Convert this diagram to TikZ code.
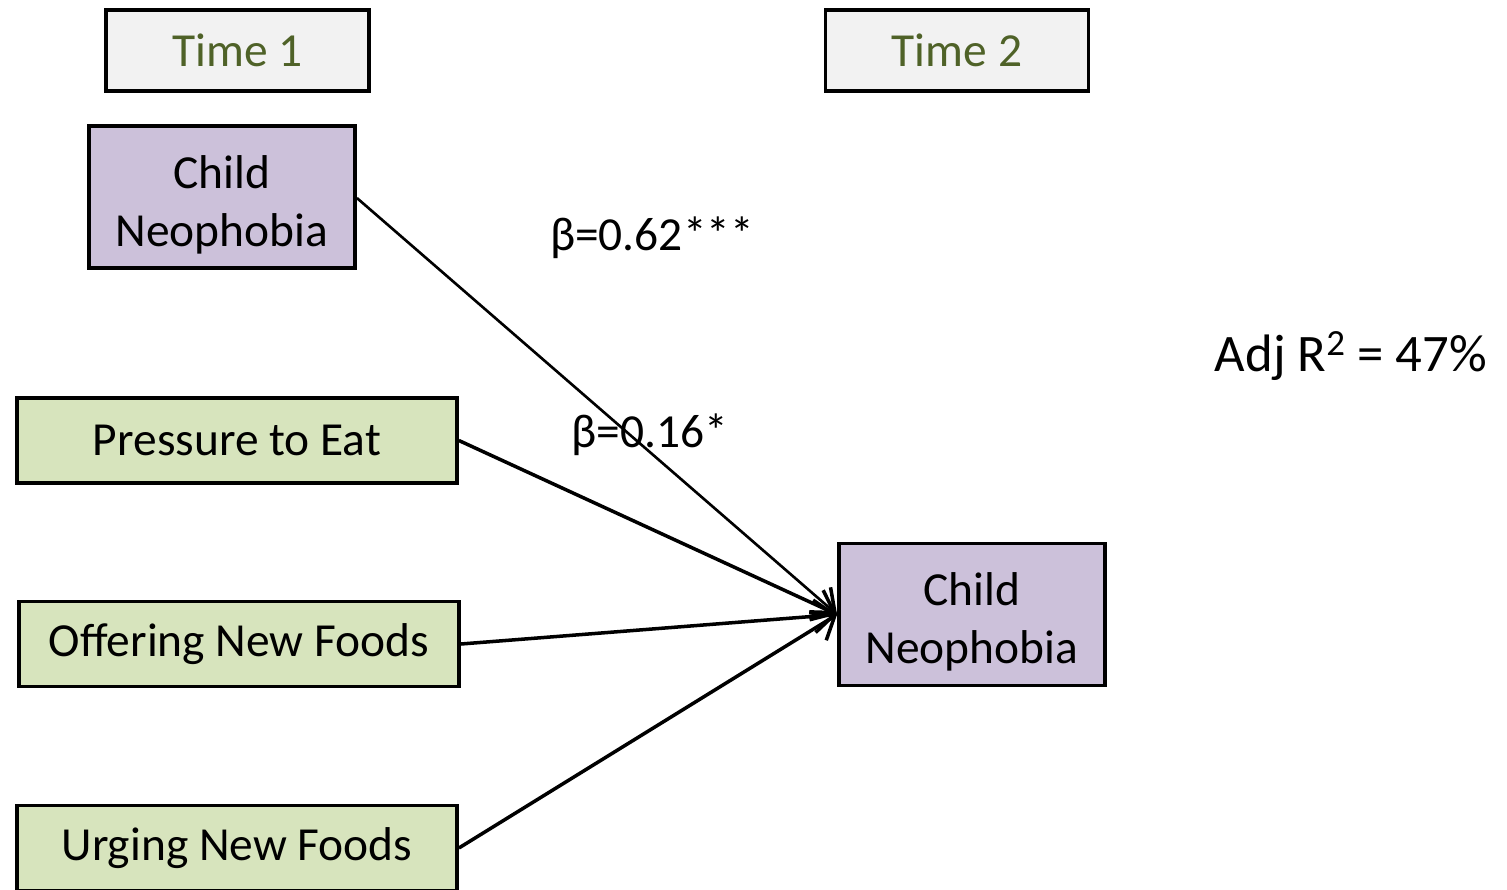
\documentclass[tikz,border=0pt]{standalone}
\usepackage{fontspec}
\setmainfont{Carlito}
\usetikzlibrary{arrows.meta}

\definecolor{timegray}{HTML}{F2F2F2}
\definecolor{timegreen}{HTML}{4F6228}
\definecolor{neolilac}{HTML}{CCC1DA}
\definecolor{parentgreen}{HTML}{D7E4BD}

\tikzset{
  basebox/.style={draw=black, line width=2.2pt, inner sep=0pt, align=center,
    font=\fontsize{27}{33}\selectfont},
  timebox/.style={basebox, fill=timegray, text=timegreen,
    minimum width=5.26cm, minimum height=1.62cm},
  neobox/.style={basebox, fill=neolilac,
    minimum width=5.32cm, minimum height=2.84cm},
  parbox/.style={basebox, fill=parentgreen,
    minimum width=8.8cm, minimum height=1.7cm},
  pathline/.style={-{Straight Barb[length=4mm,width=6.5mm,line width=2pt]}, line width=2pt},
  coef/.style={font=\fontsize{27}{31}\selectfont}
}

\begin{document}
\begin{tikzpicture}[x=0.02cm, y=-0.02cm]

  % frame: 1507 x 889 px
  \useasboundingbox (0,0) rectangle (1507,889);

  % ---- time headers ----
  \node[timebox] (time1) at (237.5,50.5) {Time 1};
  \node[timebox] (time2) at (957,50.5)   {Time 2};

  % ---- time 1 predictors ----
  \node[neobox] (neo1) at (222,197) {\\[-0.2cm]Child\\Neophobia};
  \node[parbox] (press) at (237,440.5) {Pressure to Eat};
  \node[parbox] (offer) at (239,644)   {Offering New Foods};
  \node[parbox] (urge)  at (237,848)   {Urging New Foods};

  % ---- time 2 outcome ----
  \node[neobox] (neo2) at (972,614.5) {\\[-0.2cm]Child\\Neophobia};

  % ---- paths ----
  \draw[pathline, line width=1.5pt] (neo1.east |- 0,198) -- (neo2.west);
  \draw[pathline] (press.east) -- (neo2.west);
  \draw[pathline] (offer.east) -- (neo2.west);
  \draw[pathline] (urge.east)  -- (neo2.west);

  % ---- coefficients ----
  \node[coef] (b1) at (652,238) {β=0.62***};
  \node[coef] (b2) at (650,435) {β=0.16*};
  \node[coef, font=\fontsize{30}{36}\selectfont] (rsq) at (1351,356)
    {Adj R\textsuperscript{2} = 47\%};

\end{tikzpicture}
\end{document}
